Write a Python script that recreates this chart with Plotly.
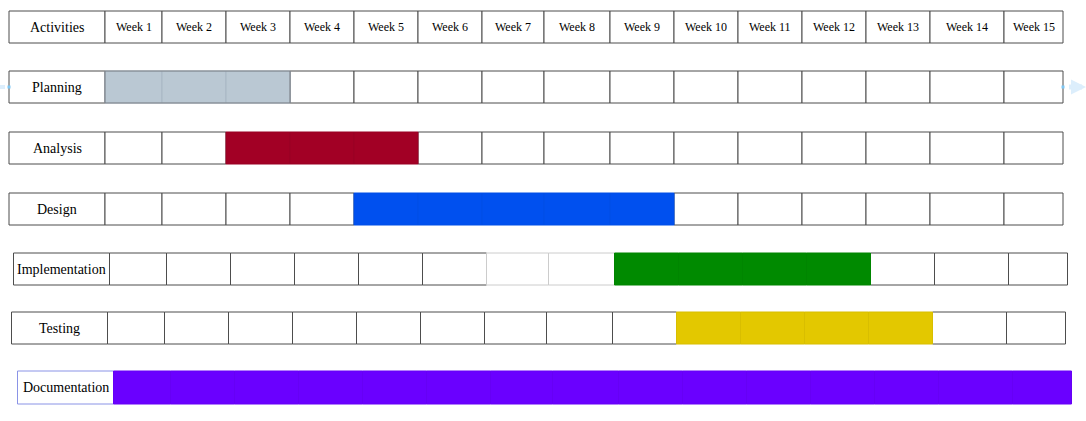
import plotly.graph_objects as go

# ---- data ----
weeks = [f"Week {i}" for i in range(1, 16)]
activities = ["Planning", "Analysis", "Design", "Implementation", "Testing", "Documentation"]
start_week = [1, 3, 5, 9, 10, 1]
end_week = [3, 5, 9, 12, 13, 15]
fill_colors = ["#BAC8D3", "#A20025", "#0050EF", "#008A00", "#E3C800", "#6A00FF"]
inner_borders = ["#A8B7C4", "#990024", "#004EE6", "#008500", "#D8BE00", "#6600F5"]

# ---- layout (pixel geometry of the table) ----
W, H = 1086, 421
col_edges = [9, 105, 162, 226, 290, 354, 418, 482, 544, 610, 674, 738, 802, 866, 930, 1004, 1063]
header_y = (11, 43)
row_y = [(71, 103), (132, 164), (193, 225), (253, 285), (312, 344), (371, 404)]
row_dx = [0, 0, 0, 4.5, 2.5, 8.5]
edge_col = "#4D4D4D"
font_family = "'Liberation Serif', 'Times New Roman', serif"

shapes = []
annotations = []


def rect(x0, x1, y0, y1, fill, line, width=1):
    shapes.append(dict(type="rect", xref="x", yref="y", x0=x0, x1=x1, y0=y0, y1=y1,
                       fillcolor=fill, line=dict(color=line, width=width), layer="above"))


def text(x, y, s, size):
    annotations.append(dict(x=x, y=y, xref="x", yref="y", text=s, showarrow=False,
                            font=dict(family=font_family, size=size, color="#000000"),
                            xanchor="center", yanchor="middle"))


# header row
y0, y1 = header_y
rect(col_edges[0], col_edges[1], y0, y1, "#FFFFFF", edge_col)
text((col_edges[0] + col_edges[1]) / 2, (y0 + y1) / 2, "Activities", 14)
for i, wk in enumerate(weeks):
    a, b = col_edges[i + 1], col_edges[i + 2]
    rect(a, b, y0, y1, "#FFFFFF", edge_col)
    text((a + b) / 2, (y0 + y1) / 2, wk, 12)

# activity rows
for r, act in enumerate(activities):
    y0, y1 = row_y[r]
    dx = row_dx[r]
    label_line = "#8A93E6" if act == "Documentation" else edge_col
    rect(col_edges[0] + dx, col_edges[1] + dx, y0, y1, "#FFFFFF", label_line)
    text((col_edges[0] + col_edges[1]) / 2 + dx, (y0 + y1) / 2, act, 14)
    for w in range(1, 16):
        a, b = col_edges[w] + dx, col_edges[w + 1] + dx
        if start_week[r] <= w <= end_week[r]:
            continue
        line = edge_col
        if act == "Implementation" and w in (7, 8):
            line = "#CCCCCC"
        rect(a, b, y0, y1, "#FFFFFF", line)
    s, e = start_week[r], end_week[r]
    for w in range(s, e + 1):
        a, b = col_edges[w] + dx, col_edges[w + 1] + dx
        rect(a, b, y0, y1, fill_colors[r], inner_borders[r])
    if act == "Planning":
        shapes.append(dict(type="rect", xref="x", yref="y",
                           x0=col_edges[s] + dx, x1=col_edges[e + 1] + dx, y0=y0, y1=y1,
                           fillcolor="rgba(0,0,0,0)", line=dict(color="#7A7F85", width=1),
                           layer="above"))

# faint connector arrow on the Planning row
py = (row_y[0][0] + row_y[0][1]) / 2
shapes.append(dict(type="line", xref="x", yref="y", x0=1069, x1=1080, y0=py, y1=py,
                   line=dict(color="#DCEEFC", width=5), layer="above"))
annotations.append(dict(x=1086, y=py, ax=1078, ay=py, xref="x", yref="y", axref="x", ayref="y",
                        text="", showarrow=True, arrowhead=2, arrowsize=0.6, arrowwidth=5,
                        arrowcolor="#DCEEFC"))
for xm in (9, 1063):
    shapes.append(dict(type="rect", xref="x", yref="y", x0=xm - 1.5, x1=xm + 1.5,
                       y0=py - 1.5, y1=py + 1.5, fillcolor="#7CC7F5", line=dict(width=0),
                       layer="above"))
shapes.append(dict(type="line", xref="x", yref="y", x0=0, x1=5, y0=py, y1=py,
                   line=dict(color="#DCEEFC", width=4), layer="above"))

fig = go.Figure()
fig.update_layout(
    width=W, height=H,
    margin=dict(l=0, r=0, t=0, b=0),
    paper_bgcolor="#FFFFFF", plot_bgcolor="#FFFFFF",
    xaxis=dict(range=[0, W], visible=False, fixedrange=True),
    yaxis=dict(range=[H, 0], visible=False, fixedrange=True),
    shapes=shapes, annotations=annotations, showlegend=False,
)
fig.write_html("out.html")
